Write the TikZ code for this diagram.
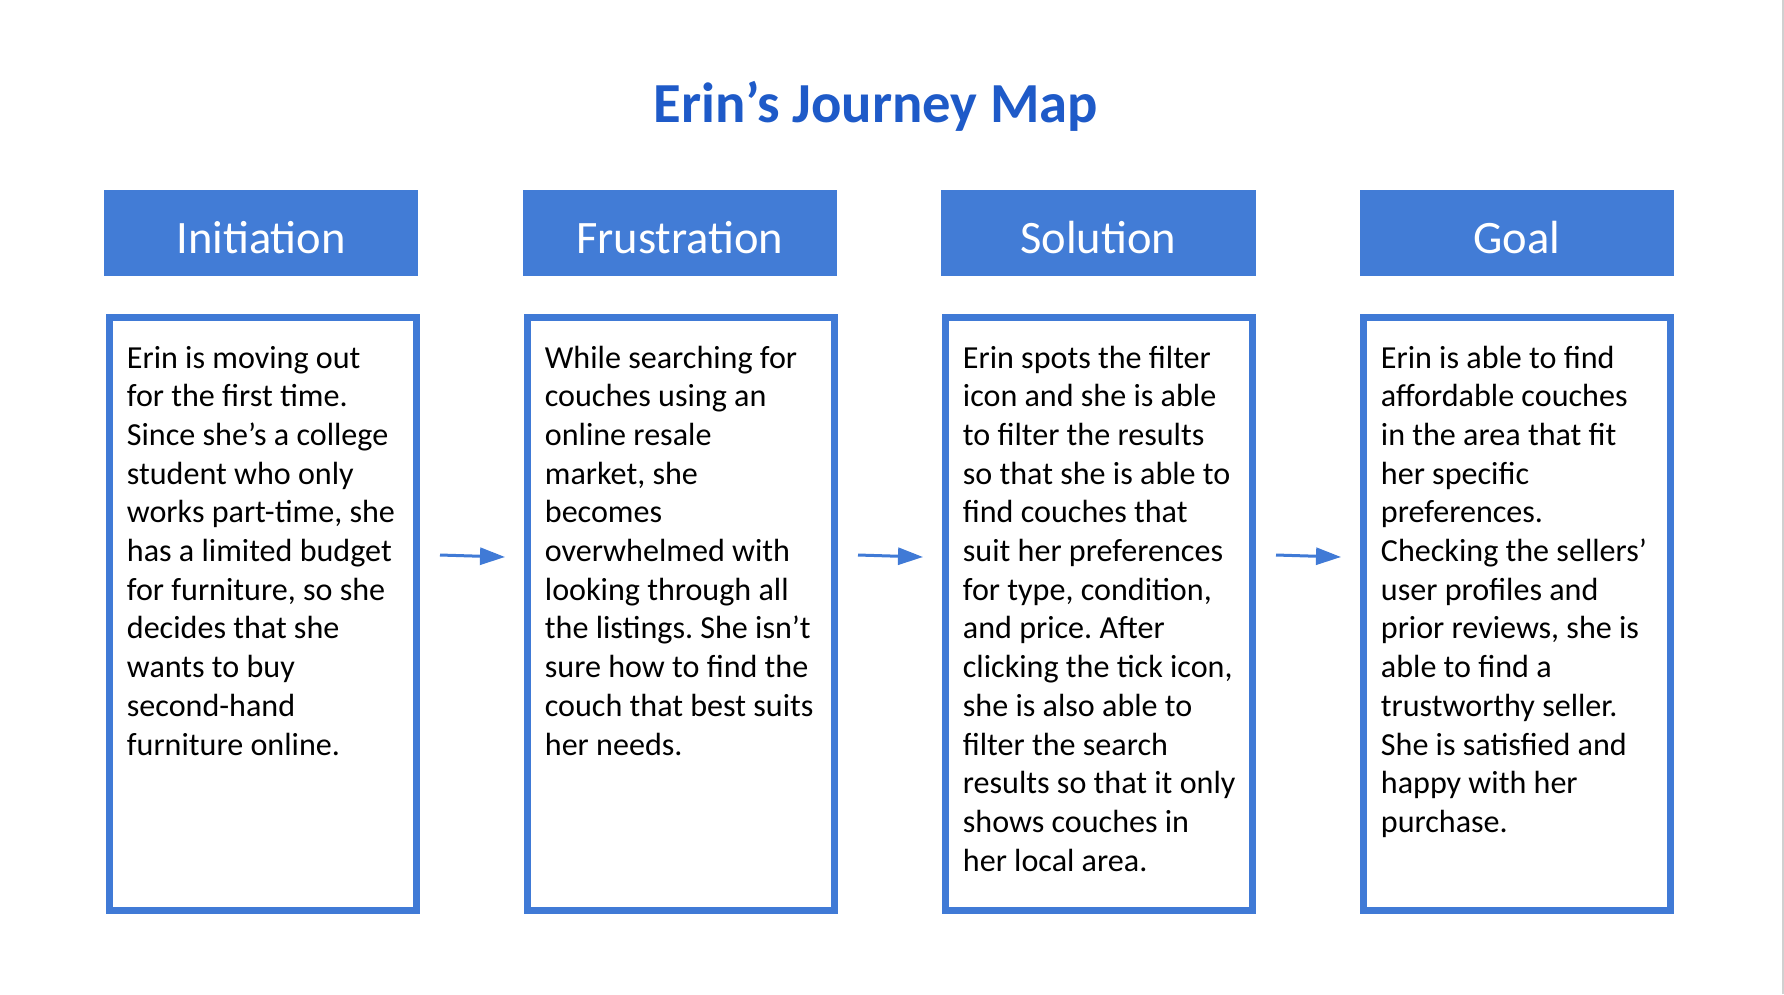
\documentclass[tikz,border=0pt]{standalone}
\usepackage{fontspec}
\setmainfont{Carlito}
\usetikzlibrary{arrows.meta,calc}
\definecolor{hdrblue}{RGB}{66,124,214}
\definecolor{boxblue}{RGB}{64,122,214}
\definecolor{titleblue}{RGB}{30,90,200}
\definecolor{edgegray}{RGB}{208,208,208}
\frenchspacing
\begin{document}
\begin{tikzpicture}[x=1pt,y=-1pt,
  hdr/.style={fill=hdrblue,draw=none,minimum width=314.3pt,minimum height=85.7pt,inner sep=0pt},
  hdrtext/.style={text=white,font=\fontsize{46.5}{56}\selectfont,anchor=base,inner sep=0pt},
  card/.style={draw=boxblue,line width=7pt,fill=white,minimum width=307pt,minimum height=592.7pt,inner sep=0pt},
  cardtext/.style={anchor=base west,align=left,inner sep=0pt,font=\fontsize{32.1}{38.7}\selectfont\frenchspacing},
  flow/.style={draw=boxblue,line width=3pt,-{Triangle[length=25pt,width=17pt]}}]
\useasboundingbox (0,0) rectangle (1784,994);
\fill[white] (0,0) rectangle (1784,994);
\fill[edgegray] (1782,0) rectangle (1784,994);

\node (title) [anchor=base,inner sep=0pt,text=titleblue,font=\bfseries\fontsize{56.6}{68}\selectfont] at (876,122) {Erin’s Journey Map};

\node (h1) [hdr] at (261.15,232.85) {};
\node (h2) [hdr] at (679.75,232.85) {};
\node (h3) [hdr] at (1098.35,232.85) {};
\node (h4) [hdr] at (1516.95,232.85) {};
\node (h1t) [hdrtext] at (261.15,253) {Initiation};
\node (h2t) [hdrtext] at (679.75,253) {Frustration};
\node (h3t) [hdrtext] at (1098.35,253) {Solution};
\node (h4t) [hdrtext] at (1516.95,253) {Goal};

\node (c1) [card] at (263,614.2) {};
\node (c2) [card] at (681,614.2) {};
\node (c3) [card] at (1099,614.2) {};
\node (c4) [card] at (1517,614.2) {};

% base anchor = baseline of the last line; first line baseline at about 368
\node (c1t) [cardtext] at (126.7,755) {Erin is moving out\\for the first time.\\Since she’s a college\\student who only\\works part-time, she\\has a limited budget\\for furniture, so she\\decides that she\\wants to buy\\second-hand\\furniture online.};
\node (c2t) [cardtext] at (544.7,755) {While searching for\\couches using an\\online resale\\market, she\\becomes\\overwhelmed with\\looking through all\\the listings. She isn’t\\sure how to find the\\couch that best suits\\her needs.};
\node (c3t) [cardtext] at (962.7,871.1) {Erin spots the filter\\icon and she is able\\to filter the results\\so that she is able to\\find couches that\\suit her preferences\\for type, condition,\\and price. After\\clicking the tick icon,\\she is also able to\\filter the search\\results so that it only\\shows couches in\\her local area.};
\node (c4t) [cardtext] at (1380.7,832.4) {Erin is able to find\\affordable couches\\in the area that fit\\her specific\\preferences.\\Checking the sellers’\\user profiles and\\prior reviews, she is\\able to find a\\trustworthy seller.\\She is satisfied and\\happy with her\\purchase.};

\draw[flow] ($(c1.east)+(20,-59.2)$) -- ($(c2.west)+(-19,-57.2)$);
\draw[flow] ($(c2.east)+(20,-59.2)$) -- ($(c3.west)+(-19,-57.2)$);
\draw[flow] ($(c3.east)+(20,-59.2)$) -- ($(c4.west)+(-19,-57.2)$);
\end{tikzpicture}
\end{document}
